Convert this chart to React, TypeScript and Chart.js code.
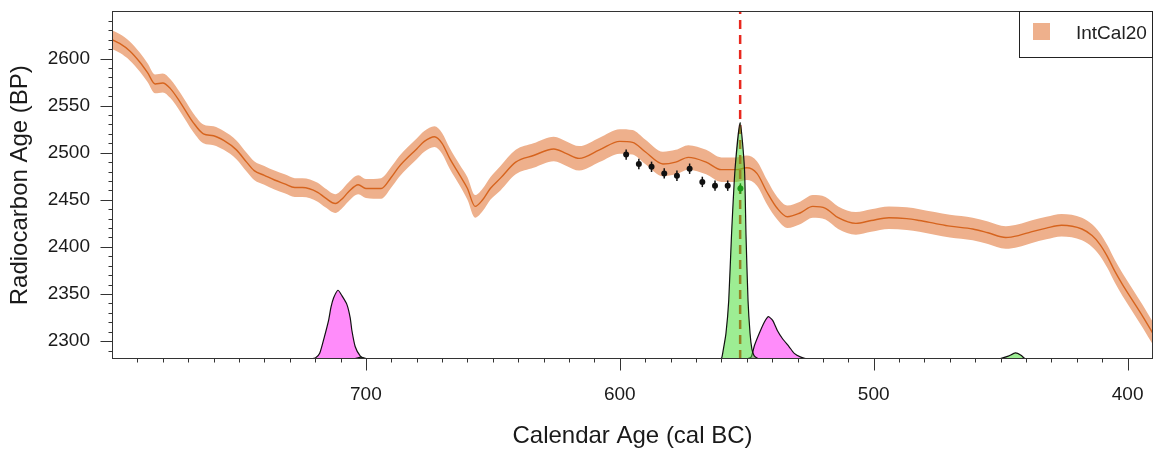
import React, { useEffect, useRef } from 'react';
import { Chart, registerables } from 'chart.js';

Chart.register(...registerables);

// IntCal20 calibration curve (cal BC, BP, 1-sigma)
const curveYears = [800, 797, 793, 789, 786, 783, 780, 777, 773, 768, 764, 760, 756, 751, 747, 744, 740, 736, 732, 728, 725, 719, 716, 712, 709, 707, 703, 700, 694, 690, 687, 680, 677, 673, 670, 667, 663, 660, 657, 654, 651, 647, 641, 634, 626, 621, 616, 608, 600, 595, 590, 583, 578, 573, 566, 560, 554, 550, 546, 542, 538, 534, 529, 524, 519, 514, 507, 501, 494, 487, 482, 476, 470, 461, 455, 448, 443, 438, 432, 426, 418, 414, 411, 408, 405, 402, 398, 394, 390];
const curveBP = [2620, 2616, 2608, 2596, 2585, 2573, 2574, 2568, 2553, 2532, 2520, 2518, 2513, 2503, 2490, 2481, 2476, 2471, 2467, 2463, 2463, 2458, 2452, 2446, 2452, 2458, 2466, 2462, 2462, 2474, 2485, 2504, 2512, 2517, 2510, 2494, 2476, 2462, 2443, 2450, 2462, 2473, 2490, 2497, 2504, 2499, 2494, 2503, 2512, 2511, 2501, 2488, 2490, 2495, 2490, 2482, 2482, 2484, 2478, 2458, 2441, 2432, 2436, 2443, 2441, 2431, 2425, 2428, 2431, 2430, 2428, 2425, 2422, 2419, 2415, 2410, 2412, 2416, 2420, 2423, 2419, 2412, 2403, 2390, 2374, 2360, 2343, 2326, 2308];
const curveSigma = [10, 10, 10, 10, 10, 10, 10, 10, 10, 10, 10, 10, 10, 10, 10, 10, 10, 10, 10, 10, 10, 10, 10, 10, 10, 10, 10, 10, 11, 11, 11, 11, 11, 11, 11, 11, 11, 12, 12, 12, 12, 13, 13, 13, 13, 13, 13, 13, 13, 13, 13, 13, 13, 13, 13, 13, 13, 13, 13, 13, 12, 12, 12, 12, 12, 12, 12, 12, 12, 12, 12, 12, 12, 12, 12, 12, 12, 12, 12, 12, 12, 12, 12, 12, 12, 12, 12, 12, 12];

// Measured samples
const sampleYears = [597.5, 592.5, 587.5, 582.5, 577.5, 572.5, 567.5, 562.5, 557.5];
const sampleBP = [2498, 2488, 2485, 2478, 2475.5, 2483, 2469, 2465, 2465];
const sampleErr = [5.5, 5.5, 5.5, 5.5, 5.5, 5.5, 5.5, 5.5, 5.5];
const anchorYear = [552.5];
const anchorBP = [2462];
const anchorErr = [5.5];

// Vertical marker
const markerYear = 552.6;

// Posterior distributions (drawn on the BP axis, baseline 2281)
const greenYears = [561, 559.9, 559.3, 558.2, 557.1, 556.0, 554.6, 552.6, 550.9, 550.3, 549.5, 548.7, 548.0, 547.2, 546.0, 545.0];
const greenBP = [2281, 2282, 2290, 2308, 2343, 2413, 2483, 2532, 2483, 2413, 2343, 2308, 2292, 2285, 2282, 2281];
const greenSmallAYears = [705, 703.5, 702, 700.5, 699.5];
const greenSmallABP = [2281, 2282, 2283, 2282, 2281];
const greenSmallBYears = [452, 450.1, 447, 444.2, 442, 440.3, 439];
const greenSmallBBP = [2281, 2281.5, 2284, 2287.5, 2285, 2281, 2281];
const magentaAYears = [722, 719.9, 718.2, 716.4, 714.7, 713.75, 712.7, 711.0, 709.4, 707.5, 706.2, 705.5, 704.2, 702.2, 700.3, 699];
const magentaABP = [2281, 2282, 2287, 2304, 2322, 2336, 2346, 2354, 2348, 2339, 2325, 2311, 2294, 2284, 2281, 2281];
const magentaBYears = [550, 548.3, 547.0, 545.1, 543.1, 541.5, 539.8, 537.9, 535.9, 533.3, 531.3, 528.7, 526.1, 525];
const magentaBBP = [2281, 2283, 2295, 2308, 2320, 2326, 2322, 2311, 2302.5, 2294, 2287, 2283, 2281, 2281];

const xTickValues = [400, 500, 600, 700];
const yTickValues = [2300, 2350, 2400, 2450, 2500, 2550, 2600];
const legendLabel = 'IntCal20';

const FONT = "'Liberation Sans', Arial, Helvetica, sans-serif";
const BAND = 'rgb(238,176,140)';
const LINE = 'rgb(214,100,30)';

const pts = (xs: number[], ys: number[]) => xs.map((x, i) => ({ x, y: ys[i] }));

const decorPlugin = {
  id: 'decor',
  afterDatasetsDraw(chart: any) {
    const { ctx, scales } = chart;
    const x = scales.x, y = scales.y;
    ctx.save();
    ctx.lineWidth = 1.5;
    const bars = (xs: number[], ys: number[], es: number[], color: string) => {
      ctx.strokeStyle = color;
      xs.forEach((v, i) => {
        const px = x.getPixelForValue(v);
        ctx.beginPath();
        ctx.moveTo(px, y.getPixelForValue(ys[i] - es[i]));
        ctx.lineTo(px, y.getPixelForValue(ys[i] + es[i]));
        ctx.stroke();
      });
    };
    bars(sampleYears, sampleBP, sampleErr, '#111');
    bars(anchorYear, anchorBP, anchorErr, '#1a9a1a');
    ctx.restore();
  },
  afterDraw(chart: any) {
    const { ctx, chartArea: a, scales } = chart;
    const x = scales.x, y = scales.y;
    ctx.save();
    ctx.strokeStyle = '#333';
    ctx.lineWidth = 1;
    const L = Math.round(a.left) + 0.5, R = Math.round(a.right) - 0.5;
    const T = Math.round(a.top) + 0.5, B = Math.round(a.bottom) - 0.5;
    ctx.strokeRect(L, T, R - L, B - T);
    for (let v = 400; v < 800; v += 10) {
      const px = Math.round(x.getPixelForValue(v)) + 0.5;
      const len = xTickValues.includes(v) ? 12 : 4;
      ctx.beginPath();
      ctx.moveTo(px, B);
      ctx.lineTo(px, B + len);
      ctx.stroke();
    }
    for (let v = 2290; v < 2650; v += 10) {
      const py = Math.round(y.getPixelForValue(v)) + 0.5;
      const len = yTickValues.includes(v) ? 12 : 4;
      ctx.beginPath();
      ctx.moveTo(L, py);
      ctx.lineTo(L - len, py);
      ctx.stroke();
    }
    // legend box
    ctx.strokeStyle = '#222';
    ctx.strokeRect(1019.5, T, R - 1019.5, 46);
    ctx.fillStyle = BAND;
    ctx.fillRect(1033, 23, 17, 17);
    ctx.fillStyle = '#222';
    ctx.font = `19px ${FONT}`;
    ctx.textBaseline = 'alphabetic';
    ctx.textAlign = 'left';
    ctx.fillText(legendLabel, 1076, 38.5);
    ctx.restore();
  },
};

export default function App() {
  const ref = useRef<HTMLCanvasElement | null>(null);
  useEffect(() => {
    document.body.style.margin = '0';
    if (!ref.current) return;
    const upper = curveBP.map((v, i) => v + curveSigma[i]);
    const lower = curveBP.map((v, i) => v - curveSigma[i]);
    const distStyle = (fill: string) => ({
      type: 'line' as const,
      borderColor: '#111',
      borderWidth: 1.2,
      backgroundColor: fill,
      fill: 'start',
      pointRadius: 0,
      tension: 0.2,
    });
    const chart = new Chart(ref.current, {
      type: 'line',
      data: {
        datasets: [
          {
            label: 'samples',
            data: pts(sampleYears, sampleBP),
            showLine: false,
            pointRadius: 3,
            pointBackgroundColor: '#111',
            pointBorderColor: '#111',
            pointBorderWidth: 0,
          },
          {
            label: 'anchor',
            data: pts(anchorYear, anchorBP),
            showLine: false,
            pointRadius: 3,
            pointBackgroundColor: '#1a9a1a',
            pointBorderColor: '#1a9a1a',
            pointBorderWidth: 0,
          },
          { label: 'green', data: pts(greenYears, greenBP), ...distStyle('rgba(60,220,40,0.5)') },
          { label: 'greenA', data: pts(greenSmallAYears, greenSmallABP), ...distStyle('rgba(60,220,40,0.5)') },
          { label: 'greenB', data: pts(greenSmallBYears, greenSmallBBP), ...distStyle('rgba(60,220,40,0.5)') },
          {
            label: 'marker',
            data: [{ x: markerYear, y: 2281 }, { x: markerYear, y: 2650 }],
            borderColor: 'rgb(232,40,30)',
            borderWidth: 2.5,
            borderDash: [9, 6],
            pointRadius: 0,
            fill: false,
          },
          { label: 'magA', data: pts(magentaAYears, magentaABP), ...distStyle('rgb(255,140,250)') },
          { label: 'magB', data: pts(magentaBYears, magentaBBP), ...distStyle('rgb(255,140,250)') },
          {
            label: 'mean',
            data: pts(curveYears, curveBP),
            borderColor: LINE,
            borderWidth: 1.4,
            pointRadius: 0,
            fill: false,
            cubicInterpolationMode: 'monotone',
          },
          {
            label: 'upper',
            data: pts(curveYears, upper),
            borderWidth: 0,
            borderColor: 'rgba(0,0,0,0)',
            pointRadius: 0,
            fill: false,
            cubicInterpolationMode: 'monotone',
          },
          {
            label: 'lower',
            data: pts(curveYears, lower),
            borderWidth: 0,
            borderColor: 'rgba(0,0,0,0)',
            backgroundColor: BAND,
            pointRadius: 0,
            fill: '-1',
            cubicInterpolationMode: 'monotone',
          },
        ] as any,
      },
      options: {
        animation: false,
        responsive: false,
        devicePixelRatio: 1,
        layout: { padding: { top: 8, right: 2, left: 0, bottom: 0 } },
        plugins: { legend: { display: false }, tooltip: { enabled: false } },
        scales: {
          x: {
            type: 'linear',
            reverse: true,
            min: 390,
            max: 800,
            position: 'bottom',
            afterBuildTicks: (s: any) => { s.ticks = xTickValues.map((v) => ({ value: v })); },
            afterFit: (s: any) => { s.height = 96; },
            border: { display: false },
            grid: { drawOnChartArea: false, drawTicks: true, tickLength: 24, tickColor: 'rgba(0,0,0,0)', color: 'rgba(0,0,0,0)' },
            ticks: {
              autoSkip: false,
              maxRotation: 0,
              minRotation: 0,
              padding: 0,
              color: '#1a1a1a',
              font: { size: 19, family: FONT },
              callback: (v: any) => String(v),
            },
            title: {
              display: true,
              text: 'Calendar Age (cal BC)',
              color: '#1a1a1a',
              font: { size: 24, family: FONT },
              padding: { top: 4, bottom: 4 },
            },
          },
          y: {
            type: 'linear',
            min: 2281,
            max: 2650,
            afterBuildTicks: (s: any) => { s.ticks = yTickValues.map((v) => ({ value: v })); },
            afterFit: (s: any) => { s.width = 112; },
            border: { display: false },
            grid: { drawOnChartArea: false, drawTicks: true, tickLength: 22, tickColor: 'rgba(0,0,0,0)', color: 'rgba(0,0,0,0)' },
            ticks: {
              autoSkip: false,
              padding: 0,
              color: '#1a1a1a',
              font: { size: 19, family: FONT },
              callback: (v: any) => String(v),
            },
            title: {
              display: true,
              text: 'Radiocarbon Age (BP)',
              color: '#1a1a1a',
              font: { size: 24, family: FONT },
              padding: { top: 6, bottom: 0 },
            },
          },
        },
      },
      plugins: [decorPlugin],
    } as any);
    return () => chart.destroy();
  }, []);
  return (
    <div style={{ width: 1157, height: 455 }}>
      <canvas ref={ref} width={1157} height={455} style={{ display: 'block' }} />
    </div>
  );
}
